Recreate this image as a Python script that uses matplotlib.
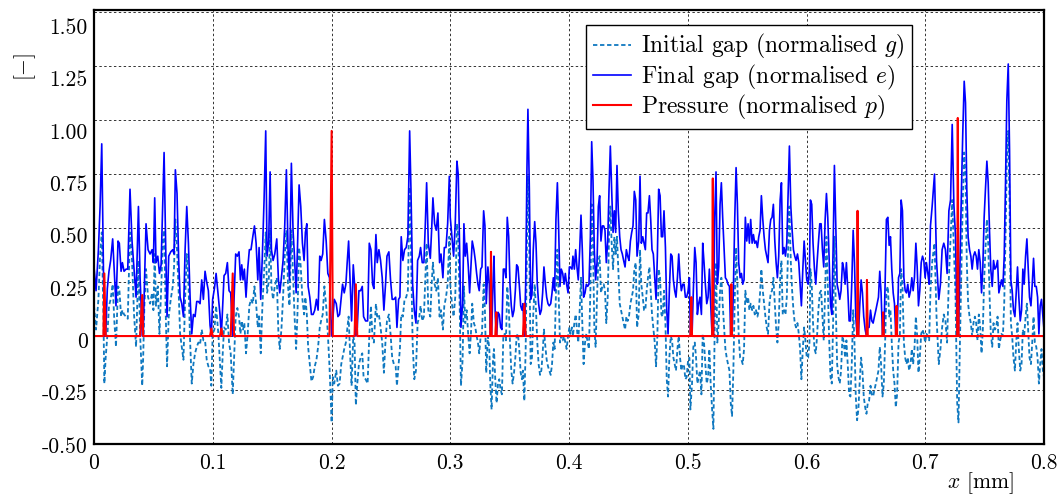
import numpy as np
import matplotlib.pyplot as plt
from matplotlib.transforms import ScaledTranslation

plt.rcParams['font.family'] = 'serif'
plt.rcParams['font.serif'] = ['cmr10']
plt.rcParams['mathtext.fontset'] = 'cm'
plt.rcParams['axes.unicode_minus'] = False
plt.rcParams['axes.formatter.use_mathtext'] = True

# positions along the profile, micrometres
x_um = [
    0.0, 1.7, 3.7, 5.1, 6.5, 7.9, 8.7, 9.8, 11.2, 12.6, 14.0, 15.7, 17.1, 18.5, 20.2, 21.3, 22.8, 23.9, 25.3, 27.0,
    28.4, 30.3, 32.0, 33.7, 35.4, 37.4, 38.8, 40.6, 41.4, 42.4, 43.8, 45.5, 47.2, 48.9, 50.0, 51.1, 52.2, 53.7, 55.1, 56.5,
    57.9, 59.0, 60.4, 61.5, 62.9, 64.6, 66.3, 67.4, 68.5, 69.9, 71.3, 72.5, 73.9, 75.3, 76.7, 78.1, 79.5, 80.9, 82.3, 83.7,
    85.1, 86.5, 87.9, 89.3, 90.7, 92.1, 93.5, 94.9, 96.3,
    97.7, 98.8, 99.9, 101.4, 102.8, 104.7, 106.1, 107.2, 108.4, 109.5, 110.9, 112.3, 113.7, 115.1, 116.8, 117.9, 119.3, 120.7, 122.1, 123.3,
    124.4, 125.5, 126.6, 128.0, 129.4, 130.8, 132.2, 133.7, 135.1, 136.5, 137.9, 139.0, 140.4, 141.8, 143.2, 144.6, 145.7, 147.1, 148.3, 149.4,
    150.8, 152.2, 153.9, 155.3, 156.4, 157.8, 159.2, 160.6, 162.0, 163.4, 164.6, 166.2, 167.6, 168.8, 170.2, 171.3, 172.7, 174.1, 175.5, 176.9,
    178.0, 179.2, 180.3, 181.7, 183.1, 184.5, 185.9, 187.3, 188.7, 190.1, 191.2, 192.6, 194.0, 195.5, 196.9, 198.3,
    200.1, 201.1, 202.3, 204.0, 205.4, 206.8, 208.2, 209.3, 210.7, 212.1, 213.2, 214.4, 215.8, 216.9, 218.3, 219.4, 220.5, 221.7, 223.1, 224.5,
    225.9, 227.0, 228.7, 230.4, 231.8, 233.2, 234.6, 235.7, 237.4, 238.5, 239.9, 241.3, 242.7, 244.1, 245.5, 246.7, 248.3, 249.7, 251.1, 252.5,
    254.0, 255.1, 256.5, 257.6, 258.7, 260.1, 261.5, 262.9, 264.3, 265.8, 266.9, 268.3, 269.7, 271.1, 272.5, 273.9, 275.0, 276.4, 277.8, 279.0,
    280.1, 281.5, 283.2, 284.3, 285.4, 286.8, 288.2, 289.6, 291.0, 292.2, 293.8, 295.0, 296.4, 297.8, 299.2,
    300.0, 301.4, 302.8, 304.2, 305.6, 306.7, 307.9, 309.0, 310.4, 311.5, 312.6, 313.8, 315.2, 316.3, 317.4, 318.5, 319.9, 321.1, 322.2, 323.3,
    324.4, 325.6, 326.7, 328.1, 329.2, 330.3, 331.7, 332.9, 333.7, 334.8, 336.0, 336.8, 337.9, 339.0, 340.2, 341.3, 342.4, 343.5, 344.7, 345.8,
    346.9, 348.0, 349.2, 350.3, 351.4, 352.5, 353.7, 354.8, 355.9, 357.0, 358.1, 359.3, 360.4, 361.2, 362.4, 363.5, 364.6, 365.4, 366.6, 367.7,
    368.8, 369.9, 371.1, 372.2, 373.3, 374.4, 375.6, 376.7, 377.8, 378.9, 380.1, 381.2, 382.3, 383.4, 384.6, 385.7, 386.8, 387.9, 389.0, 390.2,
    391.3, 392.4, 393.5, 394.7, 395.8, 396.9, 398.0, 399.2, 400.3,
    401.1, 402.5, 403.3, 404.5, 405.6, 406.7, 407.8, 409.0, 410.1, 411.2, 412.3, 413.5, 414.6, 415.7, 416.8, 418.0, 419.1, 420.2, 421.3, 422.4,
    423.6, 424.7, 425.8, 426.9, 428.1, 429.2, 430.3, 431.4, 432.6, 433.7, 434.8, 435.9, 437.1, 438.2, 439.3, 440.4, 441.5, 442.7, 443.8, 444.9,
    446.0, 447.2, 448.3, 449.4, 450.5, 451.7, 452.8, 453.9, 455.0, 456.2, 457.3, 458.7, 459.8, 460.9, 462.1, 463.2, 464.3, 465.4, 466.5, 467.7,
    468.8, 469.9, 471.0, 472.2, 473.3, 474.4, 475.5, 476.7, 477.8, 478.9, 480.0, 481.2, 482.3, 483.4, 484.5, 485.7, 486.8, 487.9, 489.0, 490.1,
    491.3, 492.4, 493.5, 494.6, 495.8, 496.9, 498.0, 499.1, 500.3, 501.4,
    502.2, 503.6, 504.7, 505.9, 507.0, 508.1, 509.2, 510.3, 511.5, 512.6, 513.7, 514.8, 516.0, 517.1, 518.2, 519.3, 520.5, 521.6, 522.7, 523.8,
    524.9, 526.1, 527.2, 528.3, 529.4, 530.6, 531.7, 532.8, 533.9, 535.1, 536.2, 537.3, 538.4, 539.6, 540.7, 541.8, 542.9, 544.1, 545.2, 546.3,
    547.4, 548.5, 549.7, 550.8, 551.9, 553.0, 554.2, 555.3, 556.4, 557.5, 558.7, 559.8, 560.9, 562.0, 563.2, 564.3, 565.4, 566.5, 567.6, 568.8,
    569.9, 571.0, 572.1, 573.3, 574.4, 575.5, 576.6, 577.8, 578.9, 580.0, 581.1, 582.3, 583.4, 584.5, 585.6, 586.8, 587.9, 589.0, 590.1, 591.2,
    592.4, 593.5, 594.6, 595.7, 596.9, 598.0, 599.1, 600.2, 601.4, 602.5,
    603.3, 604.4, 605.5, 606.7, 607.8, 608.9, 610.0, 611.2, 612.3, 613.4, 614.5, 615.7, 616.8, 617.9, 619.0, 620.2, 621.3, 622.4, 623.5, 624.6,
    625.8, 626.9, 628.0, 629.1, 630.3, 631.4, 632.5, 633.6, 634.8, 635.9, 637.0, 638.1, 639.3, 640.4, 641.5, 642.6, 643.7, 644.9, 646.0, 647.1,
    648.2, 649.4, 650.5, 651.6, 652.7, 653.9, 655.0, 656.1, 657.2, 658.4, 659.5, 660.6, 661.7, 662.8, 664.0, 665.1, 666.2, 667.3, 668.5, 669.6,
    670.7, 671.8, 673.0, 674.1, 675.2, 676.3, 677.5, 678.6, 679.7, 680.8, 682.0, 683.1, 684.2, 685.3, 686.4, 687.6, 688.7, 689.8, 690.9, 692.1,
    693.2, 694.3, 695.4, 696.6, 697.7, 698.8, 699.9, 701.0, 702.2, 703.3,
    704.4, 705.8, 707.8, 709.5, 711.4, 712.8, 714.2, 715.6, 717.0, 718.4, 719.9, 721.3, 722.7, 724.1, 725.5, 726.9, 728.0, 729.1, 730.5, 731.6,
    732.8, 733.9, 735.0, 736.1, 737.3, 738.4, 739.5, 740.6, 741.8, 742.9, 744.0, 745.1, 746.3, 747.4, 748.5, 749.6, 750.7, 751.9, 753.0, 754.1,
    755.2, 756.4, 757.5, 758.6, 759.7, 760.9, 762.0, 763.1, 764.2, 765.4, 766.5, 767.6, 768.7, 769.9, 771.0, 772.1, 773.2, 774.3, 775.5, 776.6,
    777.7, 778.8, 780.0, 781.1, 782.2, 783.3, 784.5, 785.6, 786.7, 787.8, 789.0, 790.1, 791.2, 792.3, 793.5, 794.6, 795.7, 796.8, 797.9, 799.1,
    800.0,
]

# final gap e (normalised)
gap_final = [
    0.32, 0.21, 0.40, 0.60, 0.89, 0.30, 0.00, 0.00, 0.22, 0.30, 0.35, 0.45, 0.29, 0.14, 0.44, 0.43, 0.30, 0.34, 0.30, 0.31,
    0.31, 0.68, 0.44, 0.31, 0.18, 0.60, 0.27, 0.00, 0.00, 0.23, 0.52, 0.40, 0.38, 0.40, 0.34, 0.64, 0.34, 0.37, 0.29, 0.33,
    0.63, 0.85, 0.40, 0.09, 0.37, 0.39, 0.40, 0.38, 0.77, 0.66, 0.35, 0.18, 0.15, 0.09, 0.40, 0.60, 0.43, 0.18, 0.01, 0.10,
    0.09, 0.16, 0.16, 0.15, 0.26, 0.17, 0.30, 0.25, 0.21,
    0.05, 0.00, 0.17, 0.22, 0.29, 0.18, 0.10, 0.00, 0.15, 0.28, 0.29, 0.34, 0.21, 0.20, 0.00, 0.17, 0.38, 0.37, 0.39, 0.26,
    0.33, 0.26, 0.31, 0.18, 0.31, 0.40, 0.40, 0.46, 0.51, 0.43, 0.26, 0.41, 0.17, 0.38, 0.63, 0.95, 0.37, 0.44, 0.76, 0.40,
    0.35, 0.38, 0.45, 0.26, 0.20, 0.27, 0.35, 0.51, 0.77, 0.40, 0.26, 0.80, 0.49, 0.37, 0.20, 0.40, 0.70, 0.60, 0.43, 0.35,
    0.48, 0.52, 0.23, 0.18, 0.10, 0.10, 0.12, 0.17, 0.12, 0.37, 0.35, 0.38, 0.54, 0.44, 0.29, 0.27,
    0.00, 0.08, 0.17, 0.15, 0.09, 0.10, 0.18, 0.24, 0.20, 0.24, 0.34, 0.44, 0.24, 0.07, 0.33, 0.24, 0.00, 0.04, 0.21, 0.21,
    0.23, 0.09, 0.07, 0.07, 0.43, 0.40, 0.24, 0.22, 0.47, 0.34, 0.40, 0.35, 0.27, 0.12, 0.24, 0.37, 0.39, 0.26, 0.17, 0.17,
    0.18, 0.04, 0.17, 0.18, 0.46, 0.35, 0.40, 0.41, 0.46, 0.95, 0.68, 0.24, 0.12, 0.06, 0.35, 0.37, 0.41, 0.34, 0.34, 0.52,
    0.71, 0.43, 0.36, 0.49, 0.64, 0.52, 0.49, 0.57, 0.34, 0.38, 0.27, 0.41, 0.41, 0.52, 0.74,
    0.55, 0.46, 0.37, 0.52, 0.81, 0.75, 0.40, 0.04, 0.15, 0.52, 0.37, 0.43, 0.32, 0.20, 0.32, 0.44, 0.40, 0.35, 0.29, 0.24,
    0.21, 0.31, 0.32, 0.58, 0.51, 0.15, 0.32, 0.24, 0.00, 0.00, 0.24, 0.37, 0.09, 0.00, 0.11, 0.10, 0.04, 0.03, 0.31, 0.31,
    0.27, 0.55, 0.46, 0.24, 0.14, 0.09, 0.12, 0.21, 0.33, 0.32, 0.24, 0.14, 0.12, 0.15, 0.00, 0.24, 0.78, 1.05, 0.68, 0.17,
    0.19, 0.40, 0.53, 0.43, 0.24, 0.15, 0.10, 0.12, 0.20, 0.32, 0.24, 0.18, 0.15, 0.14, 0.15, 0.20, 0.27, 0.21, 0.54, 0.71,
    0.49, 0.23, 0.31, 0.29, 0.24, 0.29, 0.24, 0.20, 0.32,
    0.32, 0.31, 0.37, 0.31, 0.40, 0.32, 0.26, 0.40, 0.56, 0.40, 0.18, 0.20, 0.24, 0.23, 0.24, 0.46, 0.90, 0.72, 0.40, 0.26,
    0.34, 0.60, 0.65, 0.44, 0.51, 0.51, 0.49, 0.34, 0.44, 0.68, 0.88, 0.68, 0.48, 0.58, 0.48, 0.79, 0.58, 0.46, 0.40, 0.38,
    0.35, 0.32, 0.40, 0.37, 0.35, 0.44, 0.48, 0.51, 0.67, 0.63, 0.37, 0.44, 0.74, 0.43, 0.46, 0.43, 0.40, 0.57, 0.57, 0.65,
    0.54, 0.40, 0.38, 0.27, 0.17, 0.37, 0.68, 0.65, 0.46, 0.46, 0.58, 0.41, 0.12, 0.01, 0.21, 0.38, 0.37, 0.26, 0.21, 0.18,
    0.27, 0.38, 0.27, 0.21, 0.24, 0.24, 0.18, 0.18, 0.21, 0.27,
    0.00, 0.00, 0.21, 0.41, 0.34, 0.10, 0.15, 0.18, 0.10, 0.43, 0.34, 0.24, 0.15, 0.18, 0.31, 0.15, 0.00, 0.00, 0.55, 0.76,
    0.24, 0.32, 0.61, 0.71, 0.55, 0.40, 0.27, 0.26, 0.24, 0.23, 0.00, 0.00, 0.21, 0.55, 0.78, 0.61, 0.34, 0.27, 0.29, 0.24,
    0.26, 0.55, 0.44, 0.52, 0.43, 0.54, 0.43, 0.47, 0.43, 0.44, 0.41, 0.46, 0.49, 0.65, 0.54, 0.46, 0.40, 0.37, 0.34, 0.49,
    0.54, 0.55, 0.61, 0.44, 0.34, 0.27, 0.37, 0.63, 0.71, 0.38, 0.41, 0.37, 0.43, 0.66, 0.88, 0.60, 0.49, 0.40, 0.37, 0.35,
    0.38, 0.34, 0.24, 0.14, 0.31, 0.44, 0.35, 0.26, 0.24, 0.31,
    0.63, 0.61, 0.43, 0.31, 0.24, 0.34, 0.43, 0.52, 0.52, 0.40, 0.32, 0.54, 0.66, 0.55, 0.37, 0.15, 0.10, 0.40, 0.79, 0.52,
    0.24, 0.21, 0.17, 0.21, 0.34, 0.31, 0.24, 0.34, 0.21, 0.07, 0.07, 0.24, 0.49, 0.34, 0.09, 0.00, 0.00, 0.15, 0.26, 0.20,
    0.09, 0.03, 0.00, 0.04, 0.04, 0.12, 0.07, 0.06, 0.09, 0.12, 0.15, 0.18, 0.30, 0.20, 0.00, 0.00, 0.24, 0.54, 0.55, 0.42,
    0.46, 0.31, 0.20, 0.15, 0.00, 0.00, 0.27, 0.29, 0.63, 0.58, 0.27, 0.21, 0.20, 0.24, 0.18, 0.21, 0.27, 0.21, 0.27, 0.43,
    0.32, 0.14, 0.21, 0.34, 0.37, 0.35, 0.27, 0.34, 0.29, 0.24,
    0.51, 0.60, 0.75, 0.35, 0.17, 0.24, 0.40, 0.43, 0.40, 0.29, 0.58, 0.63, 0.98, 0.61, 0.46, 0.00, 0.00, 0.31, 0.68, 0.94,
    1.18, 1.08, 0.68, 0.46, 0.40, 0.37, 0.31, 0.37, 0.39, 0.37, 0.31, 0.40, 0.34, 0.20, 0.32, 0.55, 0.68, 0.81, 0.71, 0.49,
    0.31, 0.23, 0.35, 0.31, 0.32, 0.35, 0.20, 0.23, 0.26, 0.23, 0.37, 0.71, 1.09, 1.26, 0.86, 0.26, 0.21, 0.12, 0.09, 0.20,
    0.32, 0.18, 0.07, 0.12, 0.31, 0.24, 0.37, 0.45, 0.31, 0.18, 0.14, 0.24, 0.36, 0.23, 0.23, 0.18, 0.01, 0.14, 0.17, 0.09,
    0.03,
]

# initial gap g (normalised)
gap_initial = [
    0.14, 0.03, 0.17, 0.37, 0.48, 0.10, -0.22, -0.10, 0.00, 0.14, 0.17, 0.24, 0.07, -0.05, 0.23, 0.22, 0.09, 0.12, 0.10, 0.09,
    0.08, 0.48, 0.35, 0.10, -0.05, 0.35, 0.01, -0.23, -0.10, 0.14, 0.31, 0.18, 0.15, 0.20, 0.12, 0.38, 0.14, 0.23, 0.01, 0.21,
    0.44, 0.49, 0.10, -0.14, 0.09, 0.17, 0.23, 0.32, 0.54, 0.40, 0.20, 0.01, -0.05, -0.11, 0.17, 0.38, 0.25, -0.02, -0.22, -0.13,
    -0.08, -0.05, -0.03, -0.04, 0.03, -0.02, -0.02, -0.11, -0.14,
    -0.15, -0.23, 0.01, 0.03, 0.14, 0.01, -0.13, -0.24, -0.08, 0.04, 0.03, 0.10, -0.03, -0.08, -0.27, -0.11, 0.09, 0.13, 0.09, 0.01,
    0.07, 0.03, 0.06, -0.08, 0.01, 0.14, 0.17, 0.15, 0.23, 0.15, 0.04, 0.10, -0.08, 0.14, 0.29, 0.48, 0.20, 0.25, 0.49, 0.23,
    0.17, 0.23, 0.27, 0.01, -0.06, 0.03, 0.18, 0.37, 0.49, 0.23, 0.14, 0.49, 0.29, 0.10, -0.06, 0.10, 0.41, 0.32, 0.17, 0.10,
    0.18, 0.10, -0.05, -0.13, -0.21, -0.19, -0.14, -0.11, -0.05, 0.04, 0.07, 0.10, 0.23, 0.14, 0.01, -0.14,
    -0.40, -0.19, -0.22, -0.16, -0.23, -0.22, -0.13, -0.10, -0.06, -0.03, 0.03, 0.09, -0.10, -0.23, 0.00, -0.03, -0.32, -0.22, -0.13, -0.10,
    -0.08, -0.19, -0.20, -0.22, 0.00, 0.14, -0.02, -0.03, 0.15, 0.09, 0.10, 0.04, -0.03, -0.17, -0.02, 0.07, 0.10, 0.01, -0.10, -0.13,
    -0.14, -0.23, -0.13, -0.06, 0.10, 0.09, 0.17, 0.18, 0.21, 0.69, 0.40, -0.03, -0.20, -0.16, 0.06, 0.09, 0.14, 0.07, 0.09, 0.27,
    0.43, 0.12, 0.09, 0.24, 0.34, 0.24, 0.21, 0.27, 0.09, 0.12, 0.03, 0.14, 0.18, 0.24, 0.46,
    0.24, 0.15, 0.09, 0.18, 0.52, 0.46, 0.15, -0.23, -0.11, 0.23, 0.06, 0.12, 0.00, -0.08, 0.01, 0.15, 0.06, 0.04, 0.00, -0.03,
    -0.08, 0.00, 0.01, 0.24, 0.12, -0.17, 0.00, -0.06, -0.22, -0.34, -0.11, -0.06, -0.20, -0.31, -0.22, -0.20, -0.25, -0.27, 0.00, 0.01,
    -0.02, 0.23, 0.15, -0.03, -0.16, -0.22, -0.17, -0.10, 0.00, 0.01, -0.06, -0.17, -0.20, -0.16, -0.30, -0.06, 0.43, 0.74, 0.37, -0.13,
    -0.10, 0.10, 0.24, 0.12, -0.03, -0.13, -0.18, -0.16, -0.08, 0.03, -0.05, -0.11, -0.14, -0.16, -0.18, -0.13, -0.03, -0.06, 0.20, 0.40,
    0.18, -0.03, 0.00, -0.02, 0.00, -0.03, -0.06, 0.00, 0.04,
    0.01, 0.04, 0.00, 0.06, 0.10, 0.03, -0.03, 0.12, 0.27, 0.06, -0.13, -0.03, 0.01, -0.03, -0.06, 0.21, 0.61, 0.43, 0.04, -0.05,
    0.18, 0.35, 0.37, 0.20, 0.23, 0.24, 0.21, 0.06, 0.18, 0.46, 0.60, 0.43, 0.31, 0.46, 0.38, 0.46, 0.31, 0.15, 0.12, 0.09,
    0.06, 0.03, 0.09, 0.07, 0.09, 0.15, 0.18, 0.21, 0.31, 0.34, 0.04, 0.10, 0.40, 0.24, 0.18, 0.12, 0.12, 0.21, 0.27, 0.32,
    0.21, 0.10, 0.04, -0.03, -0.14, 0.00, 0.31, 0.27, 0.10, 0.09, 0.21, 0.06, -0.20, -0.28, -0.10, 0.00, -0.02, -0.10, -0.13, -0.16,
    -0.06, 0.00, -0.10, -0.16, -0.13, -0.14, -0.20, -0.19, -0.11, -0.10,
    -0.34, -0.22, -0.05, -0.03, -0.10, -0.22, -0.19, -0.16, -0.27, 0.01, -0.03, -0.13, -0.22, -0.19, -0.06, -0.22, -0.34, -0.43, 0.04, 0.34,
    -0.03, 0.06, 0.21, 0.27, 0.15, 0.04, -0.06, -0.10, -0.13, -0.16, -0.31, -0.37, -0.16, 0.18, 0.41, 0.24, 0.00, -0.10, -0.11, -0.13,
    -0.06, 0.21, 0.15, 0.18, 0.12, 0.15, 0.12, 0.14, 0.10, 0.12, 0.09, 0.12, 0.20, 0.31, 0.21, 0.15, 0.09, 0.04, 0.01, 0.15,
    0.20, 0.21, 0.27, 0.15, 0.04, -0.03, 0.06, 0.27, 0.35, 0.10, 0.12, 0.10, 0.18, 0.40, 0.60, 0.34, 0.21, 0.12, 0.06, 0.04,
    0.06, 0.01, -0.06, -0.20, -0.06, 0.04, -0.02, -0.10, -0.10, -0.03,
    0.31, 0.24, 0.06, -0.06, -0.08, 0.00, 0.12, 0.20, 0.21, 0.09, -0.02, 0.21, 0.46, 0.24, 0.00, -0.19, -0.22, 0.06, 0.46, 0.15,
    -0.13, -0.19, -0.22, -0.16, 0.00, -0.03, -0.10, -0.02, -0.14, -0.27, -0.28, -0.13, 0.12, -0.03, -0.28, -0.39, -0.34, -0.20, -0.10, -0.16,
    -0.28, -0.33, -0.36, -0.31, -0.30, -0.23, -0.27, -0.28, -0.25, -0.22, -0.19, -0.16, -0.05, -0.13, -0.28, -0.22, -0.03, 0.21, 0.23, 0.09,
    0.12, -0.03, -0.16, -0.22, -0.33, -0.27, -0.03, 0.00, 0.31, 0.24, -0.03, -0.10, -0.13, -0.10, -0.16, -0.13, -0.06, -0.13, -0.06, 0.09,
    0.00, -0.17, -0.10, 0.01, 0.03, 0.01, -0.03, 0.01, 0.00, -0.02,
    0.21, 0.34, 0.43, 0.09, -0.13, -0.06, 0.04, 0.10, 0.07, -0.03, 0.27, 0.45, 0.63, 0.40, 0.18, -0.31, -0.40, -0.06, 0.34, 0.63,
    0.85, 0.74, 0.34, 0.15, 0.09, 0.06, 0.00, 0.06, 0.09, 0.06, -0.02, 0.10, 0.04, -0.08, 0.03, 0.26, 0.40, 0.54, 0.43, 0.20,
    0.01, -0.05, 0.06, 0.03, 0.04, 0.09, -0.06, -0.02, 0.01, 0.00, 0.15, 0.46, 0.81, 0.95, 0.61, 0.06, 0.00, -0.10, -0.16, -0.03,
    0.06, -0.06, -0.16, -0.13, 0.03, 0.00, 0.09, 0.15, 0.03, -0.10, -0.13, -0.03, 0.09, -0.03, -0.05, -0.10, -0.22, -0.13, -0.06, -0.16,
    -0.19,
]

# contact spots: position (um) and normalised pressure
contact_x = [8.7, 40.6, 98.8, 107.2, 116.8, 200.1, 220.5, 334.3, 338.8, 362.4,
             503.0, 521.1, 536.7, 643.0, 650.9, 664.5, 675.8, 727.4]
contact_p = [0.29, 0.19, 0.035, 0.035, 0.29, 0.95, 0.24, 0.39, 0.11, 0.15,
             0.18, 0.73, 0.24, 0.58, 0.26, 0.11, 0.14, 1.01]

x_ticks = [0, 0.1, 0.2, 0.3, 0.4, 0.5, 0.6, 0.7, 0.8]
x_labels = ['0', '0.1', '0.2', '0.3', '0.4', '0.5', '0.6', '0.7', '0.8']
y_ticks = [-0.5, -0.25, 0, 0.25, 0.5, 0.75, 1.0, 1.25, 1.5]
y_labels = ['-0.50', '-0.25', '0', '0.25', '0.50', '0.75', '1.00', '1.25', '1.50']

x_mm = np.array(x_um) / 1000.0
p_x = np.union1d(x_um, contact_x)
p_val = np.zeros_like(p_x)
p_val[np.searchsorted(p_x, contact_x)] = contact_p

fig = plt.figure(figsize=(10.6, 4.95), dpi=100)
ax = fig.add_axes([0.0887, 0.103, 0.8962, 0.8768])

ax.plot(x_mm, gap_initial, color='#0f78c0', lw=1.3, ls=(0, (2.4, 1.5)),
        label='Initial gap (normalised $g$)')
ax.plot(x_mm, gap_final, color='#0000ff', lw=1.2,
        label='Final gap (normalised $e$)')
ax.plot(p_x / 1000.0, p_val, color='#ff0000', lw=1.5,
        label='Pressure (normalised $p$)')

ax.set_xlim(0, 0.8)
ax.set_ylim(-0.5, 1.51)
ax.set_xticks(x_ticks)
ax.set_xticklabels(x_labels)
ax.set_yticks(y_ticks)
ax.set_yticklabels(y_labels)
ax.tick_params(length=0, labelsize=15.5)
ax.tick_params(axis='x', pad=7)
ax.tick_params(axis='y', pad=4.5)

# the y labels sit a bit below their grid lines in the original
for lab, v in zip(ax.get_yticklabels(), y_ticks):
    dy = (1 + 6.5 * (v + 0.5)) / 100.0
    lab.set_transform(lab.get_transform() + ScaledTranslation(0, -dy, fig.dpi_scale_trans))

ax.set_axisbelow(True)
ax.grid(True, color='0.2', ls=(0, (2.5, 2.5)), lw=0.7)
for s in ax.spines.values():
    s.set_linewidth(1.6)

ax.set_xlabel('$x$ [mm]', fontsize=15.5, va='center')
ax.xaxis.set_label_coords(0.933, -0.090)
ax.set_ylabel('[$-$]', fontsize=15.5, va='center')
ax.yaxis.set_label_coords(-0.073, 0.869)

leg = ax.legend(loc='upper right', bbox_to_anchor=(0.861, 0.965), borderaxespad=0,
                fancybox=False, edgecolor='k', framealpha=1, fontsize=17,
                handlelength=1.6, handletextpad=0.45, labelspacing=0.05, borderpad=0.3)
leg.get_frame().set_linewidth(1.0)

fig.savefig('out.png', dpi=100)
